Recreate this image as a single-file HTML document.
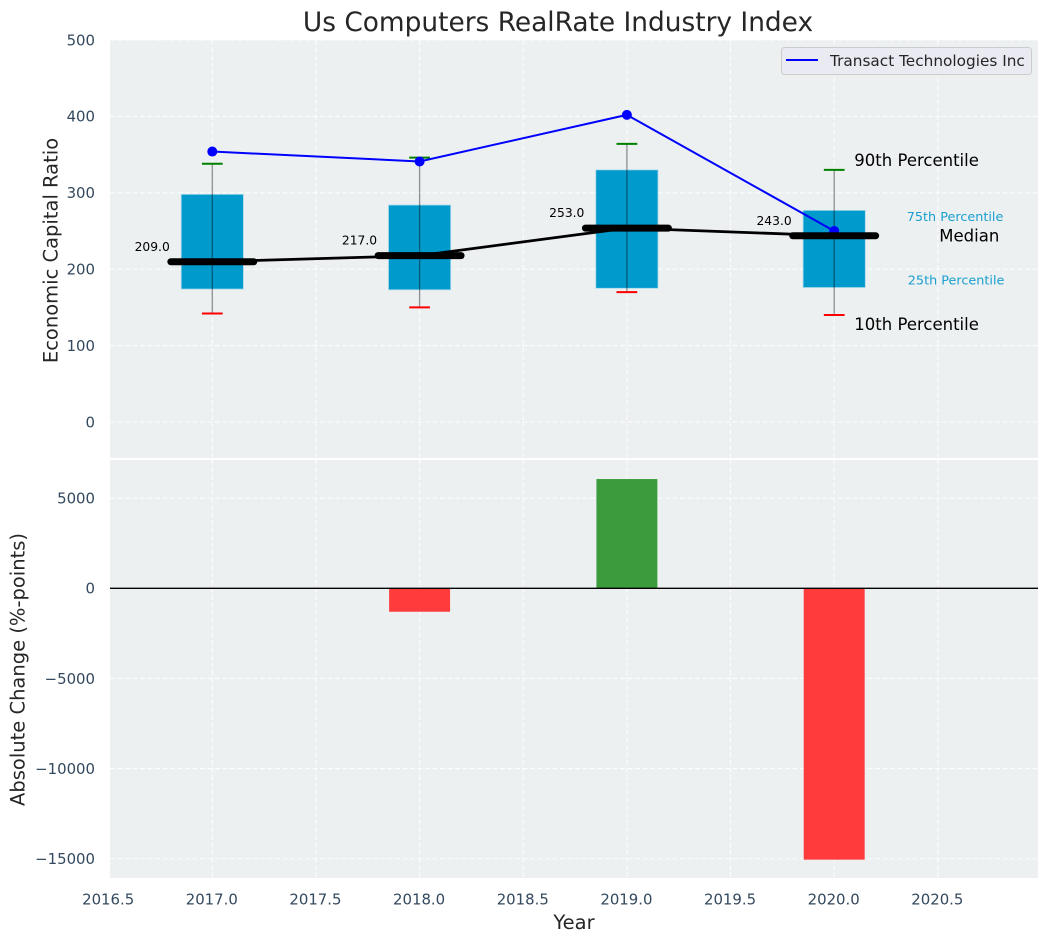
<!DOCTYPE html>
<html>
<head>
<meta charset="utf-8">
<title>Us Computers RealRate Industry Index</title>
<style>
html,body{margin:0;padding:0;background:#fff;}
svg{display:block;font-family:"DejaVu Sans","Liberation Sans",sans-serif;}
</style>
</head>
<body>
<svg id="chart" width="1048" height="942" viewBox="0 0 1048 942" xmlns="http://www.w3.org/2000/svg"></svg>
<script>
const years = [2017, 2018, 2019, 2020];
const p90 = [338, 346, 364, 330];
const p75 = [298, 284, 330, 277];
const medians = [209, 217, 253, 243];
const p25 = [174, 173, 175, 176];
const p10 = [142, 150, 170, 140];
const companyValues = [354, 341, 402, 250];
const changeValues = [null, -1300, 6060, -15050];
const xTicks = [2016.5, 2017, 2017.5, 2018, 2018.5, 2019, 2019.5, 2020, 2020.5];
const topTicks = [0, 100, 200, 300, 400, 500];
const bottomTicks = [5000, 0, -5000, -10000, -15000];

const svg = document.getElementById('chart');
const NS = 'http://www.w3.org/2000/svg';
const left = 110, right = 1038;
const topY0 = 40, topY1 = 458, botY0 = 460, botY1 = 878;
const sx = v => 212.3 + (v - 2017) * 207.3;
const syTop = v => 422 - v * 0.764;
const syBot = v => 588.3 - v * 0.01803;

function mk(tag, attrs, text) {
  const el = document.createElementNS(NS, tag);
  for (const k in attrs) el.setAttribute(k, attrs[k]);
  if (text !== undefined) el.textContent = text;
  svg.appendChild(el);
  return el;
}
let el;

el = mk('rect', {x: left, y: topY0, width: right - left, height: topY1 - topY0, fill: '#ecf0f1'});


el = mk('rect', {x: left, y: botY0, width: right - left, height: botY1 - botY0, fill: '#ecf0f1'});



const gridStyle = {stroke: '#ffffff', 'stroke-width': 1.1, 'stroke-dasharray': '5 2.5', 'stroke-opacity': 0.85};
xTicks.forEach(t => {
  if (sx(t) < left) return;
  el = mk('line', Object.assign({x1: sx(t), x2: sx(t), y1: topY0, y2: topY1}, gridStyle));
  
  
  el = mk('line', Object.assign({x1: sx(t), x2: sx(t), y1: botY0, y2: botY1}, gridStyle));
  
  
});
topTicks.forEach(t => {
  el = mk('line', Object.assign({x1: left, x2: right, y1: syTop(t), y2: syTop(t)}, gridStyle));
  
  
  el = mk('text', {x: 95, y: syTop(t) + 5.3, 'text-anchor': 'end', 'font-size': 14.9, fill: '#34495e'}, String(t));
  
  
});
bottomTicks.forEach(t => {
  el = mk('line', Object.assign({x1: left, x2: right, y1: syBot(t), y2: syBot(t)}, gridStyle));
  
  
  el = mk('text', {x: 95, y: syBot(t) + 5.3, 'text-anchor': 'end', 'font-size': 14.9, fill: '#34495e'}, String(t).replace('-', '\u2212'));
  
  
});
xTicks.forEach(t => {
  el = mk('text', {x: sx(t) - 0.5, y: 904.5, 'text-anchor': 'middle', 'font-size': 14.9, fill: '#34495e'}, t.toFixed(1));
  
  
});

/* percentile boxes and whiskers */
years.forEach((yr, i) => {
  const x0 = sx(yr - 0.15), x1 = sx(yr + 0.15);
  el = mk('rect', {x: x0, y: syTop(p75[i]), width: x1 - x0, height: syTop(p25[i]) - syTop(p75[i]), fill: '#009acd', stroke: '#a9d9ea', 'stroke-width': 0.8});
  
  
  el = mk('line', {x1: sx(yr), x2: sx(yr), y1: syTop(p90[i]), y2: syTop(p10[i]), stroke: '#000', 'stroke-opacity': 0.42, 'stroke-width': 1.3});
  
  
  el = mk('line', {x1: sx(yr - 0.05), x2: sx(yr + 0.05), y1: syTop(p90[i]), y2: syTop(p90[i]), stroke: '#008000', 'stroke-width': 2});
  
  
  el = mk('line', {x1: sx(yr - 0.05), x2: sx(yr + 0.05), y1: syTop(p10[i]), y2: syTop(p10[i]), stroke: '#ff0000', 'stroke-width': 2});
  
  
});

/* company line */
el = mk('polyline', {points: years.map((yr, i) => sx(yr) + ',' + syTop(companyValues[i])).join(' '), fill: 'none', stroke: '#0000ff', 'stroke-width': 2});


years.forEach((yr, i) => {
  el = mk('circle', {cx: sx(yr), cy: syTop(companyValues[i]), r: 5, fill: '#0000ff'});
  
  
});

/* median line */
el = mk('polyline', {points: years.map((yr, i) => sx(yr) + ',' + (syTop(medians[i]) - 0.6)).join(' '), fill: 'none', stroke: '#000', 'stroke-width': 2.8});


years.forEach((yr, i) => {
  el = mk('line', {x1: sx(yr - 0.2), x2: sx(yr + 0.2), y1: syTop(medians[i]) - 0.6, y2: syTop(medians[i]) - 0.6, stroke: '#000', 'stroke-width': 7, 'stroke-linecap': 'round'});
  
  
  el = mk('text', {x: sx(yr - 0.205), y: syTop(medians[i]) - 11.5, 'text-anchor': 'end', 'font-size': 12.3, fill: '#000'}, medians[i].toFixed(1));
  
  
});

/* percentile annotations anchored on the last year */
const last = years.length - 1;
const lastYear = years[last];
el = mk('text', {x: sx(lastYear + 0.097), y: syTop(p90[last]) - 4, 'font-size': 16.5, fill: '#000'}, '90th Percentile');


el = mk('text', {x: sx(lastYear + 0.097), y: syTop(p10[last]) + 15, 'font-size': 16.5, fill: '#000'}, '10th Percentile');


el = mk('text', {x: sx(lastYear + 0.507), y: syTop(medians[last]) + 5, 'font-size': 16.5, fill: '#000'}, 'Median');


el = mk('text', {x: sx(lastYear + 0.35), y: syTop(p75[last]) + 10.5, 'font-size': 12.8, fill: '#1a9fd0'}, '75th Percentile');


el = mk('text', {x: sx(lastYear + 0.355), y: syTop(p25[last]) - 3, 'font-size': 12.8, fill: '#1a9fd0'}, '25th Percentile');



/* change bars */
years.forEach((yr, i) => {
  const v = changeValues[i];
  if (v === null) return;
  const x0 = sx(yr - 0.147), x1 = sx(yr + 0.147);
  const ya = syBot(Math.max(v, 0)), yb = syBot(Math.min(v, 0));
  el = mk('rect', {x: x0, y: ya, width: x1 - x0, height: yb - ya, fill: v >= 0 ? '#3b9c3c' : '#ff3b3c'});
  
  
});
el = mk('line', {x1: left, x2: right, y1: syBot(0), y2: syBot(0), stroke: '#000', 'stroke-width': 1.4});



/* titles */
el = mk('text', {x: 558, y: 31, 'text-anchor': 'middle', 'font-size': 26.4, fill: '#262626'}, 'Us Computers RealRate Industry Index');


el = mk('text', {x: 574, y: 929, 'text-anchor': 'middle', 'font-size': 19.5, fill: '#262626'}, 'Year');


el = mk('text', {x: 0, y: 0, 'text-anchor': 'middle', 'font-size': 19.5, fill: '#262626', transform: 'translate(57.5 250.5) rotate(-90)'}, 'Economic Capital Ratio');


el = mk('text', {x: 0, y: 0, 'text-anchor': 'middle', 'font-size': 19.5, fill: '#262626', transform: 'translate(24.5 669.5) rotate(-90)'}, 'Absolute Change (%-points)');



/* legend */
el = mk('rect', {x: 781.5, y: 47.5, width: 250, height: 27, rx: 3, fill: '#eaeaf2', stroke: '#cccccc', 'stroke-width': 1});


el = mk('line', {x1: 786, x2: 818, y1: 60, y2: 60, stroke: '#0000ff', 'stroke-width': 2});


el = mk('text', {x: 830, y: 66, 'font-size': 15.3, fill: '#262626'}, 'Transact Technologies Inc');


</script>
</body>
</html>
